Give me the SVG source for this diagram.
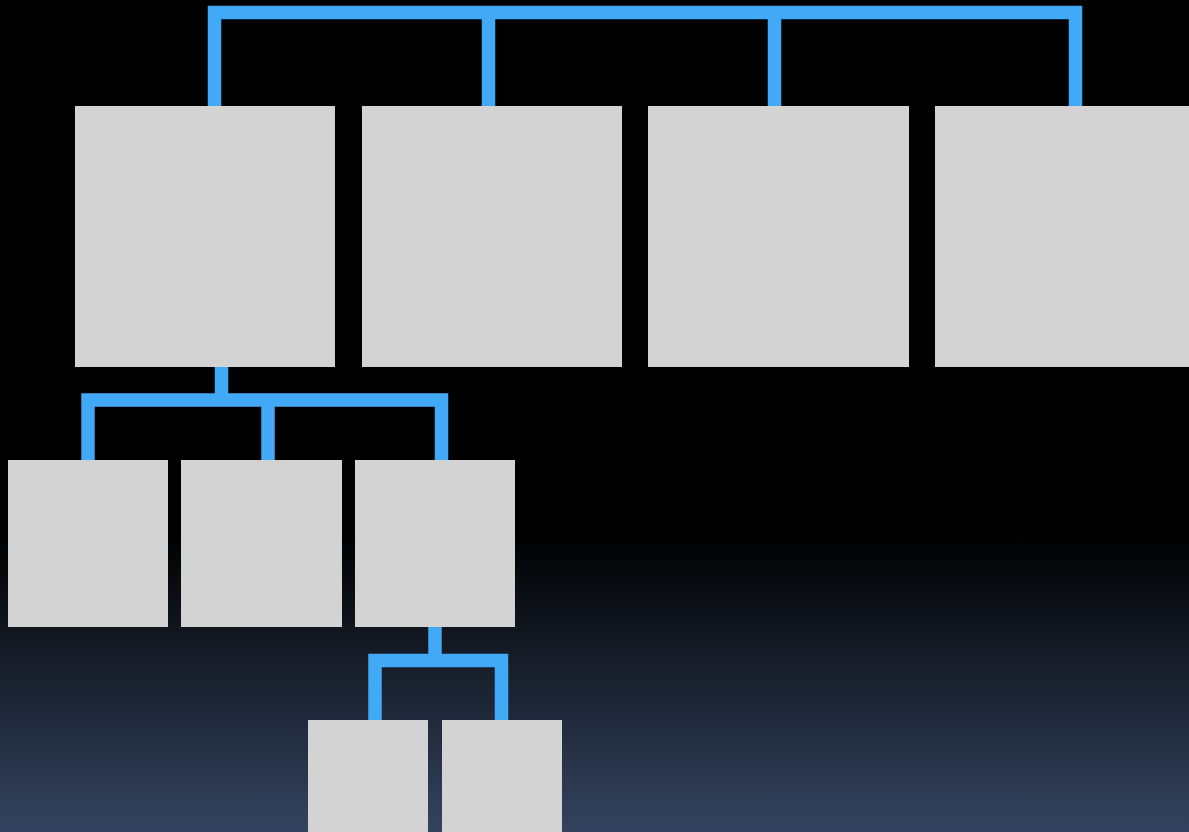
<svg xmlns="http://www.w3.org/2000/svg" width="1189" height="832" viewBox="0 0 1189 832">
  <defs>
    <linearGradient id="bg" x1="0" y1="0" x2="0" y2="832" gradientUnits="userSpaceOnUse">
      <stop offset="0" stop-color="#000000"/>
      <stop offset="0.64" stop-color="#000000"/>
      <stop offset="1" stop-color="#34435f"/>
    </linearGradient>
  </defs>
  <style>
    .node { fill: #d3d3d3; }
    .conn { fill: none; stroke: #42a9f6; stroke-width: 13.5; stroke-linejoin: miter; stroke-linecap: butt; }
  </style>
  <rect x="0" y="0" width="1189" height="832" fill="url(#bg)"/>
  <g id="connectors">
    <path class="conn" d="M214.5 106 V12.5 H1075.5 V106"/>
    <path class="conn" d="M488.5 12.5 V106"/>
    <path class="conn" d="M774.5 12.5 V106"/>
    <path class="conn" d="M221.5 367 V400"/>
    <path class="conn" d="M88 460 V400 H441.5 V460"/>
    <path class="conn" d="M268 400 V460"/>
    <path class="conn" d="M435 627 V660.5"/>
    <path class="conn" d="M375 720 V660.5 H501.5 V720"/>
  </g>
  <g id="node-1"><rect class="node" x="75" y="106" width="260" height="261"/></g>
  <g id="node-2"><rect class="node" x="362" y="106" width="260" height="261"/></g>
  <g id="node-3"><rect class="node" x="648" y="106" width="261" height="261"/></g>
  <g id="node-4"><rect class="node" x="935" y="106" width="260" height="261"/></g>
  <g id="node-5"><rect class="node" x="8" y="460" width="160" height="167"/></g>
  <g id="node-6"><rect class="node" x="181" y="460" width="161" height="167"/></g>
  <g id="node-7"><rect class="node" x="355" y="460" width="160" height="167"/></g>
  <g id="node-8"><rect class="node" x="308" y="720" width="120" height="120"/></g>
  <g id="node-9"><rect class="node" x="442" y="720" width="120" height="120"/></g>
</svg>
